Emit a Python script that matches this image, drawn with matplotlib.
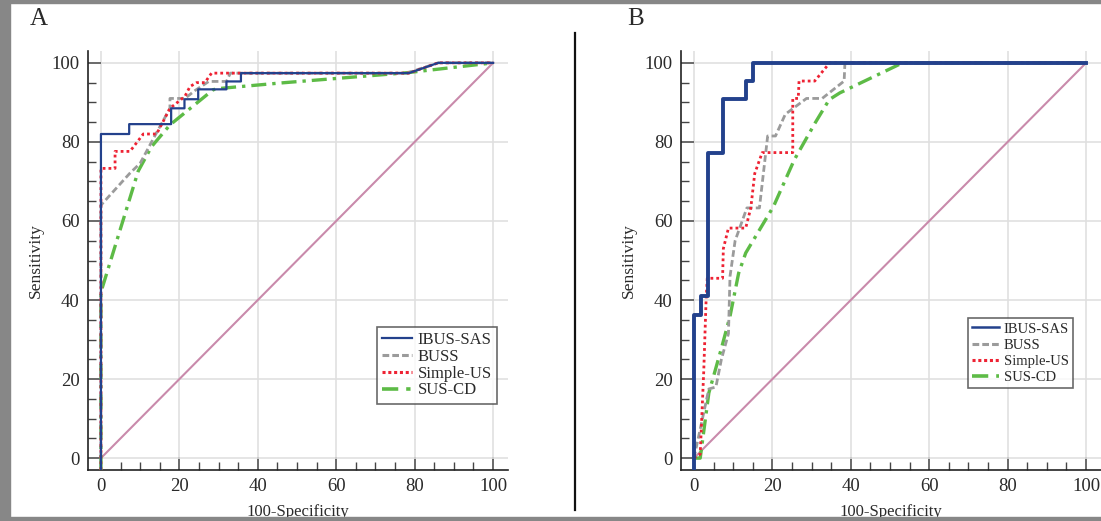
import matplotlib
matplotlib.use("Agg")
import matplotlib.pyplot as plt  # type: ignore
from matplotlib.patches import Rectangle
from matplotlib.lines import Line2D
from matplotlib.ticker import MultipleLocator


# Panel A curves (100-Specificity, Sensitivity)
a_ibus_x = [0, 0, 7.2, 7.2, 17.9, 17.9, 21.3, 21.3, 24.8, 24.8, 32, 32, 35.7, 35.7, 78.5, 86, 100]
a_ibus_y = [-3, 82, 82, 84.5, 84.5, 88.5, 88.5, 90.8, 90.8, 93.3, 93.3, 95.3, 95.3, 97.4, 97.4, 100, 100]
a_buss_x = [0, 0, 7.3, 10, 14, 17.6, 17.6, 21.4, 24, 27.5, 32, 33, 78, 86, 100]
a_buss_y = [0, 64, 72, 74.6, 82, 88.5, 91, 91, 93, 95.3, 95.3, 97.4, 97.4, 100, 100]
a_simple_x = [0, 0, 3.6, 3.6, 7.4, 10.8, 14.2, 17.6, 21.4, 22.7, 24.4, 26.5, 28.2, 78.5, 86, 100]
a_simple_y = [-3, 73.3, 73.3, 77.6, 77.6, 82, 82, 88.5, 91.5, 94, 95, 95, 97.4, 97.4, 100, 100]
a_sus_x = [0, 0, 9.5, 12.9, 17.6, 28.6, 30, 45.7, 78, 100]
a_sus_y = [-3, 42, 72.6, 78.8, 84.3, 93.2, 93.5, 94.9, 97.5, 100]

# Panel B curves
b_ibus_x = [0, 0, 1.7, 1.7, 3.5, 3.5, 7.3, 7.3, 13.4, 13.4, 15, 15, 100]
b_ibus_y = [-3, 36.2, 36.2, 41, 41, 77.1, 77.1, 90.8, 90.8, 95.3, 95.3, 100, 100]
b_buss_x = [0, 3.8, 5.6, 7, 8.8, 9.2, 10.5, 13.5, 16.7, 18.8, 20.8, 23.3, 28.7, 32.7, 38.3, 38.5, 100]
b_buss_y = [0, 17.5, 18, 25, 31.5, 46, 55, 63.3, 63.3, 81.5, 81.5, 87, 91, 91, 95.4, 100, 100]
b_simple_x = [0, 1.6, 2.5, 3.1, 3.4, 7.3, 7.5, 8.8, 13.2, 14.5, 15.5, 17.4, 25.2, 25.2, 26.6, 26.8, 30.8, 34.6, 100]
b_simple_y = [0, 1, 22, 40, 45.5, 45.5, 53, 58.2, 58.2, 63.3, 72, 77.3, 77.3, 91, 91, 95.4, 95.4, 100, 100]
b_sus_x = [0, 1.6, 3.8, 6.9, 9.2, 11.4, 13.2, 20.3, 25.6, 30.9, 34.5, 37.2, 53.2, 100]
b_sus_y = [0, 0, 16.5, 27.4, 35.9, 46.8, 51.9, 63.7, 75.5, 84.8, 90.7, 92.4, 100, 100]

labels = ["IBUS-SAS", "BUSS", "Simple-US", "SUS-CD"]
diag = [0, 100]

SERIF = ["Liberation Serif", "DejaVu Serif"]
TXT = "#2a2a2a"
C_BLUE = "#23418c"
C_GRAY = "#9b9b9b"
C_RED = "#ee2233"
C_GREEN = "#5dbb46"
C_DIAG = "#c98aab"

plt.rcParams["font.family"] = SERIF


def style_axes(ax) -> None:
    ax.set_xlim(-3.3, 103.8)
    ax.set_ylim(-3, 103)
    for side in ["top", "right"]:
        ax.spines[side].set_visible(False)
    for side in ["left", "bottom"]:
        ax.spines[side].set_color("#222222")
        ax.spines[side].set_linewidth(1.2)
    ax.xaxis.set_major_locator(MultipleLocator(20))
    ax.yaxis.set_major_locator(MultipleLocator(20))
    ax.xaxis.set_minor_locator(MultipleLocator(5))
    ax.yaxis.set_minor_locator(MultipleLocator(5))
    ax.tick_params(which="major", direction="in", length=9.5, width=1.2, color="#555555",
                   labelsize=13.5, labelcolor=TXT)
    ax.tick_params(axis="y", which="major", pad=6)
    ax.tick_params(axis="x", which="major", pad=6)
    ax.tick_params(which="minor", direction="in", length=5.5, width=1.0, color="#444444")
    ax.grid(True, which="major", color="#e0e0e0", linewidth=1.2, zorder=0)
    ax.set_axisbelow(True)
    ax.set_ylabel("Sensitivity", fontsize=12.5, color=TXT)
    ax.set_xlabel("100-Specificity", fontsize=12, color=TXT)
    ax.yaxis.set_label_coords(-0.105, 0.5)
    ax.xaxis.set_label_coords(0.5, -0.08)


def draw_panel(ax, ibus, buss, simple, sus, blue_lw: float) -> None:
    ax.plot(diag, diag, color=C_DIAG, linewidth=1.5, zorder=2)
    ax.plot(ibus[0], ibus[1], color=C_BLUE, linewidth=blue_lw, zorder=6)
    ax.plot(buss[0], buss[1], color=C_GRAY, linewidth=2.0, dashes=(2.4, 1.2), zorder=4)
    ax.plot(simple[0], simple[1], color=C_RED, linewidth=2.0, dashes=(1, 1.1), zorder=5)
    ax.plot(sus[0], sus[1], color=C_GREEN, linewidth=2.4, dashes=(4.5, 1.8, 1, 1.8), zorder=3)


fig = plt.figure(figsize=(11.01, 5.21), dpi=100)
W, H = 1101, 521

ax_a = fig.add_axes([88 / W, 1 - 470 / H, 420 / W, 419 / H])
ax_b = fig.add_axes([681 / W, 1 - 470 / H, 420 / W, 419 / H])

draw_panel(ax_a, (a_ibus_x, a_ibus_y), (a_buss_x, a_buss_y),
           (a_simple_x, a_simple_y), (a_sus_x, a_sus_y), 1.6)
draw_panel(ax_b, (b_ibus_x, b_ibus_y), (b_buss_x, b_buss_y),
           (b_simple_x, b_simple_y), (b_sus_x, b_sus_y), 2.8)

for ax in [ax_a, ax_b]:
    style_axes(ax)


# Legends (handles rebuilt so line widths look like the original key)
def legend_handles(blue_lw: float) -> list:
    return [
        Line2D([], [], color=C_BLUE, linewidth=blue_lw),
        Line2D([], [], color=C_GRAY, linewidth=2.2, dashes=(2.2, 1.0)),
        Line2D([], [], color=C_RED, linewidth=2.2, dashes=(1, 0.9)),
        Line2D([], [], color=C_GREEN, linewidth=2.6, dashes=(4.5, 2.2, 1.2, 2.2)),
    ]


legend_specs = [
    (ax_a, (377 / W, 1 - 327 / H), 1.6, 12, 0.05),
    (ax_b, (968 / W, 1 - 318 / H), 1.8, 10.5, 0.2),
]
for ax, pos, lw, fsize, lspace in legend_specs:
    leg = ax.legend(legend_handles(lw), labels, loc="upper left", bbox_to_anchor=pos,
                    bbox_transform=fig.transFigure, fontsize=fsize, frameon=True, fancybox=False,
                    handlelength=1.8, handletextpad=0.35, labelspacing=lspace,
                    borderpad=0.3, borderaxespad=0)
    leg.get_frame().set_edgecolor("#444444")
    leg.get_frame().set_linewidth(1.2)
    for t in leg.get_texts():
        t.set_color(TXT)

# Panel letters and divider
fig.text(38.5 / W, 1 - 19 / H, "A", fontsize=18, color=TXT, ha="center", va="center")
fig.text(636 / W, 1 - 19 / H, "B", fontsize=18, color=TXT, ha="center", va="center")
fig.add_artist(Line2D([575 / W, 575 / W], [1 - 33 / H, 1 - 510 / H], color="#111111",
                      linewidth=1.6, transform=fig.transFigure))

# Gray page frame over the edges
frame_color = "#878787"
fig.add_artist(Rectangle((0, 0), 10 / W, 1, transform=fig.transFigure, color=frame_color, zorder=20))
fig.add_artist(Rectangle((0, 1 - 3 / H), 1, 3 / H, transform=fig.transFigure, color=frame_color, zorder=20))
fig.add_artist(Rectangle((0, 0), 1, 4 / H, transform=fig.transFigure, color=frame_color, zorder=20))

plt.savefig("out.png", dpi=100)
